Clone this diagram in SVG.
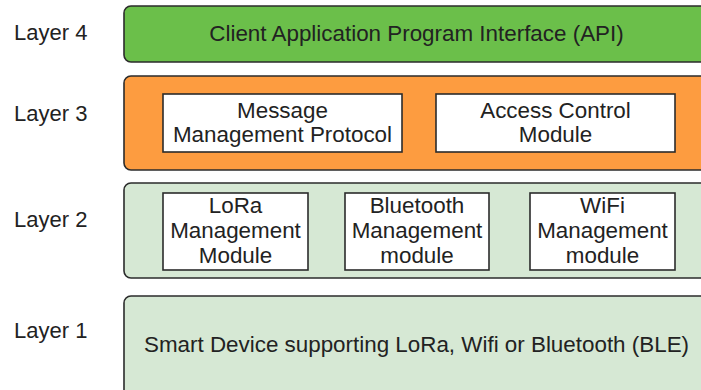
<svg xmlns="http://www.w3.org/2000/svg" width="701" height="390" viewBox="0 0 701 390">
  <style>
    text { font-family: "Liberation Sans", Arial, sans-serif; font-size: 22.4px; fill: #222; }
    .lbl { font-size: 22px; }
    .c { text-anchor: middle; }
    .layer { stroke: #2b2b2b; stroke-width: 1.6; }
    .box { fill: #ffffff; stroke: #2b2b2b; stroke-width: 1.6; }
    .api { fill: #6bbf4a; }
    .svc { fill: #fd9c40; }
    .net { fill: #d6e8d4; }
  </style>
  <rect width="701" height="390" fill="#ffffff"/>

  <!-- layer labels -->
  <g id="labels">
    <text class="lbl" x="14" y="40">Layer 4</text>
    <text class="lbl" x="14" y="121">Layer 3</text>
    <text class="lbl" x="14" y="227">Layer 2</text>
    <text class="lbl" x="14" y="338">Layer 1</text>
  </g>

  <!-- layer 4: API -->
  <g id="layer4">
    <rect class="layer api" x="124" y="6" width="600" height="56" rx="7"/>
    <text class="c" x="416.5" y="41">Client Application Program Interface (API)</text>
  </g>

  <!-- layer 3: messaging and access -->
  <g id="layer3">
    <rect class="layer svc" x="124" y="76" width="600" height="94" rx="7"/>
  </g>
  <g id="message-protocol">
    <rect class="box" x="163" y="94" width="239" height="58"/>
    <text class="c" x="282.5" y="118">Message</text>
    <text class="c" x="282.5" y="142">Management Protocol</text>
  </g>
  <g id="access-control">
    <rect class="box" x="436" y="94" width="239" height="58"/>
    <text class="c" x="555.5" y="118">Access Control</text>
    <text class="c" x="555.5" y="142">Module</text>
  </g>

  <!-- layer 2: radio management -->
  <g id="layer2">
    <rect class="layer net" x="124" y="183" width="600" height="95" rx="7"/>
  </g>
  <g id="lora">
    <rect class="box" x="163" y="193" width="145" height="77"/>
    <text class="c" x="235.5" y="213">LoRa</text>
    <text class="c" x="235.5" y="238">Management</text>
    <text class="c" x="235.5" y="263">Module</text>
  </g>
  <g id="bluetooth">
    <rect class="box" x="345" y="193" width="144" height="77"/>
    <text class="c" x="417" y="213">Bluetooth</text>
    <text class="c" x="417" y="238">Management</text>
    <text class="c" x="417" y="263">module</text>
  </g>
  <g id="wifi">
    <rect class="box" x="530" y="193" width="145" height="77"/>
    <text class="c" x="602.5" y="213">WiFi</text>
    <text class="c" x="602.5" y="238">Management</text>
    <text class="c" x="602.5" y="263">module</text>
  </g>

  <!-- layer 1: device -->
  <g id="layer1">
    <rect class="layer net" x="124" y="296" width="600" height="110" rx="7"/>
    <text class="c" x="416.5" y="352">Smart Device supporting LoRa, Wifi or Bluetooth (BLE)</text>
  </g>

  <g id="connectors"/>
</svg>
